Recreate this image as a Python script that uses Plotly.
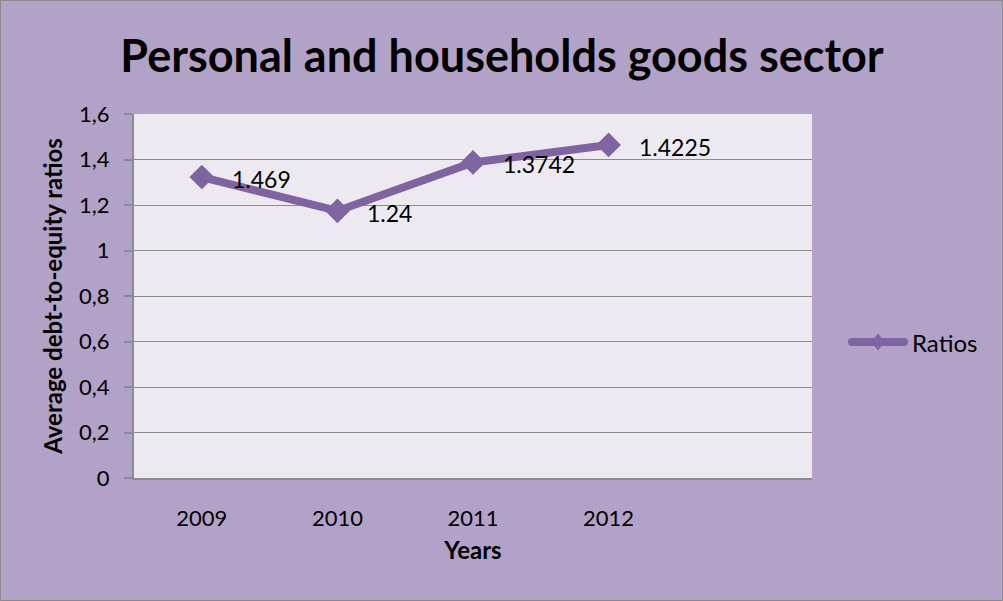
import plotly.graph_objects as go

years = [2009, 2010, 2011, 2012]
ratios = [1.323, 1.174, 1.387, 1.464]
point_labels = ["1.469", "1.24", "1.3742", "1.4225"]
y_ticks = [0, 0.2, 0.4, 0.6, 0.8, 1.0, 1.2, 1.4, 1.6]
series_name = "Ratios"

W, H = 1003, 601
ML, MR, MT, MB = 134, 191, 114, 123
PW, PH = W - ML - MR, H - MT - MB

FONT = "Lato"
BG = "#B3A2C7"
PLOT_BG = "#ECEAF0"
LINE = "#8064A2"
GRID = "#8C8C8C"


def px(x):
    return (x - ML) / PW


def py(y):
    return 1 - (y - MT) / PH


fig = go.Figure()
fig.add_trace(go.Scatter(
    x=years, y=ratios, mode="lines+markers", name=series_name,
    line=dict(color=LINE, width=8),
    marker=dict(symbol="diamond", size=19, color=LINE),
    showlegend=False,
))

for xv, yv, lab in zip(years, ratios, point_labels):
    fig.add_annotation(x=xv, y=yv, text=lab, showarrow=False, xanchor="left",
                       yanchor="middle", xshift=28, yshift=-2,
                       font=dict(family=FONT, size=23, color="black"))

fig.update_layout(
    width=W, height=H,
    margin=dict(l=ML, r=MR, t=MT, b=MB),
    paper_bgcolor=BG, plot_bgcolor=PLOT_BG,
    separators=", ",
    font=dict(family=FONT, size=22, color="black"),
    title=dict(text="<b>Personal and households goods sector</b>",
               x=502 / W, xanchor="center", y=1 - 56 / H, yanchor="middle",
               font=dict(family=FONT, size=45, color="black")),
    xaxis=dict(range=[2008.5, 2013.5], tickvals=years, ticktext=[str(y) for y in years],
               showgrid=False, zeroline=False, showline=True, linecolor=GRID, linewidth=2,
               ticks="", ticklabelstandoff=20,
               tickfont=dict(family=FONT, size=22),
               title=dict(text="<b>Years</b>", standoff=12, font=dict(family=FONT, size=24))),
    yaxis=dict(range=[0, 1.6], tickvals=y_ticks, showgrid=True, gridcolor=GRID, gridwidth=1,
               zeroline=False, showline=True, linecolor=GRID, linewidth=2,
               ticks="outside", ticklen=8, tickcolor=GRID, tickwidth=2, ticklabelstandoff=10,
               tickfont=dict(family=FONT, size=22),
               title=dict(text="<b>Average debt-to-equity ratios</b>", standoff=10,
                          font=dict(family=FONT, size=24))),
)

# outer chart border
fig.add_shape(type="rect", xref="paper", yref="paper",
              x0=px(0.5), x1=px(W - 0.5), y0=py(H - 0.5), y1=py(0.5),
              line=dict(color="#8A8A8A", width=1), fillcolor="rgba(0,0,0,0)", layer="below")

# legend (line with diamond, as drawn by the original)
ly = 342
fig.add_shape(type="line", xref="paper", yref="paper",
              x0=px(852), x1=px(904), y0=py(ly), y1=py(ly),
              line=dict(color=LINE, width=8))
for cx in (852, 904):
    fig.add_shape(type="circle", xref="paper", yref="paper",
                  x0=px(cx - 4), x1=px(cx + 4), y0=py(ly + 4), y1=py(ly - 4),
                  line=dict(width=0), fillcolor=LINE)
dcx = 878
fig.add_shape(type="path", xref="paper", yref="paper",
              path=(f"M {px(dcx - 7)} {py(ly)} L {px(dcx)} {py(ly - 8.5)} "
                    f"L {px(dcx + 7)} {py(ly)} L {px(dcx)} {py(ly + 8.5)} Z"),
              line=dict(width=0), fillcolor=LINE)
fig.add_annotation(xref="paper", yref="paper", x=px(910), y=py(ly), text=series_name,
                   showarrow=False, xanchor="left", yanchor="middle",
                   font=dict(family=FONT, size=24, color="black"))

fig.write_html("out.html")
